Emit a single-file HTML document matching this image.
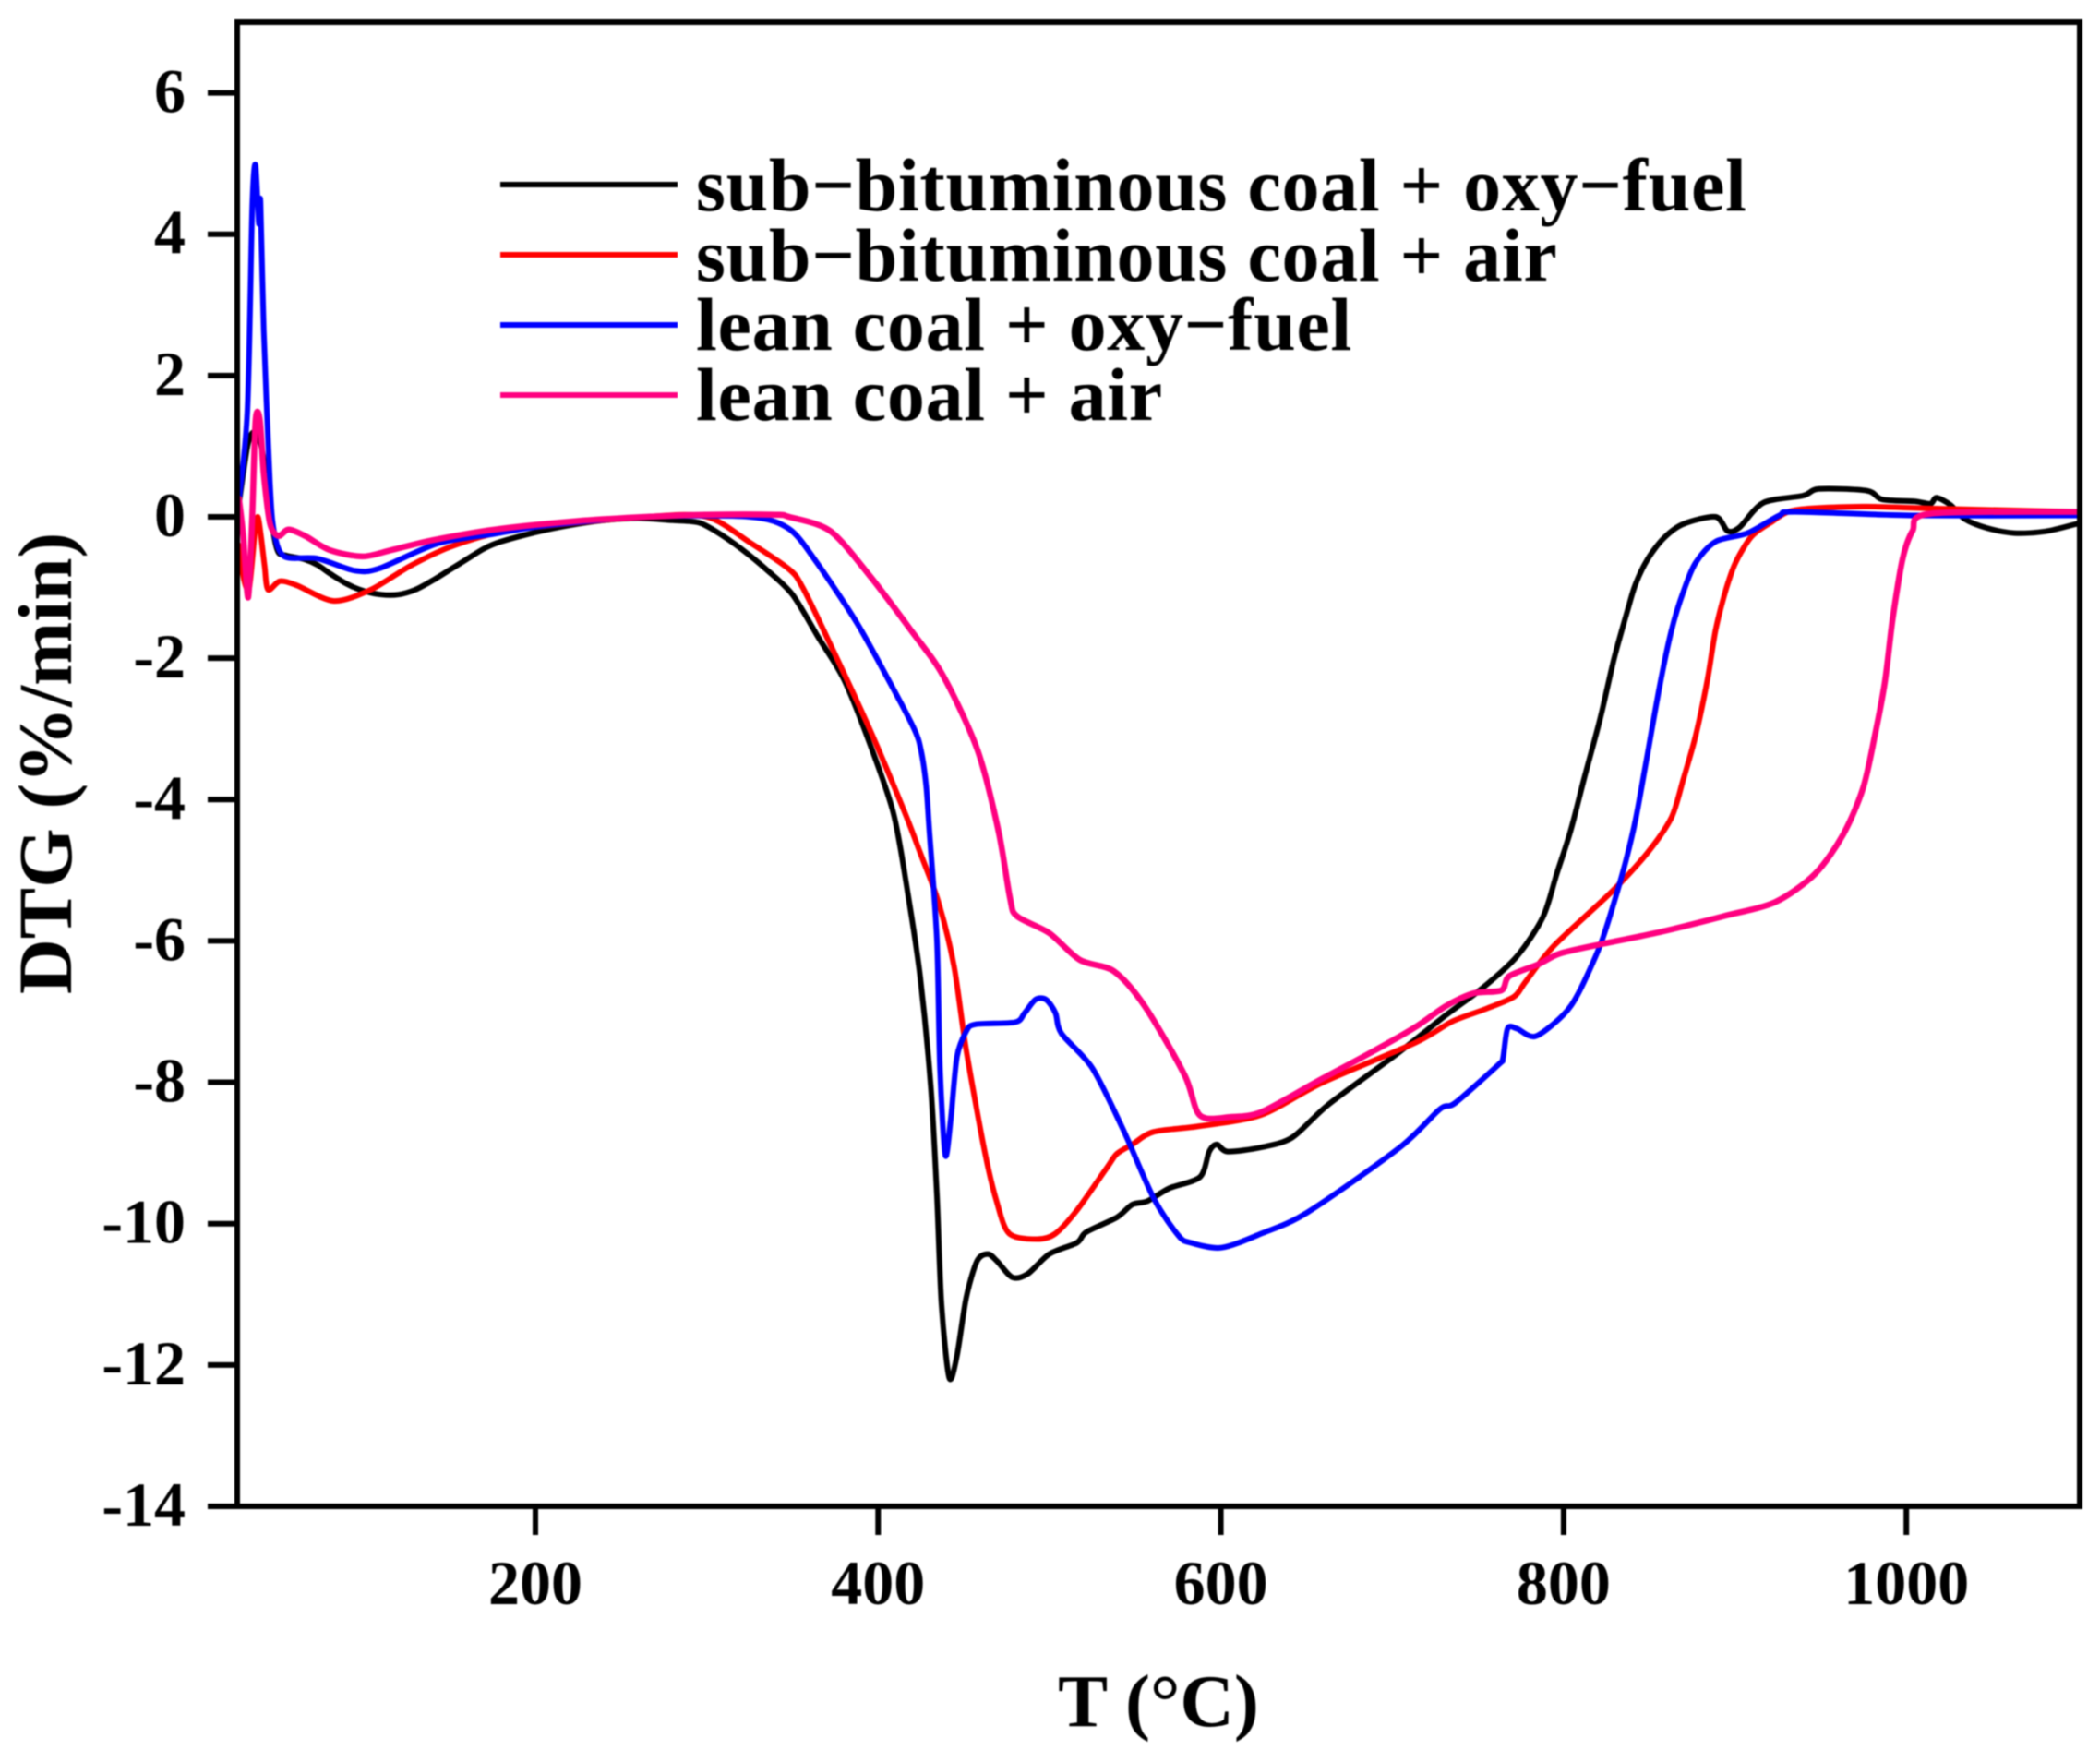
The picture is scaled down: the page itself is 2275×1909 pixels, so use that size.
<!DOCTYPE html>
<html>
<head>
<meta charset="utf-8">
<title>DTG curves</title>
<style>
html,body{margin:0;padding:0;background:#fff;}
#stage{position:relative;width:2275px;height:1909px;overflow:hidden;background:#fff;}
svg{display:block;}
text{font-family:"Liberation Serif",serif;font-weight:bold;fill:#000;}
.leg{letter-spacing:0.7px;}
</style>
</head>
<body>
<div id="stage">
<svg id="chart" width="2275" height="1909" viewBox="0 0 2275 1909" style="filter:blur(0.7px)">
  <g id="marks"></g>
  <rect x="257" y="24" width="1996" height="1608" fill="none" stroke="#000" stroke-width="6"></rect>
  <g id="yticks"></g>
  <g id="xticks"></g>
  <text x="77" y="827" font-size="83" text-anchor="middle" transform="rotate(-90 77 827)">DTG (%/min)</text>
  <text x="1255" y="1870" font-size="81" text-anchor="middle">T (°C)</text>
  <g>
    <line x1="542" y1="200" x2="734" y2="200" stroke="#000" stroke-width="6"></line>
    <text class="leg" x="754" y="228" font-size="82">sub−bituminous coal + oxy−fuel</text>
    <line x1="542" y1="276" x2="734" y2="276" stroke="#ff0000" stroke-width="6"></line>
    <text class="leg" x="754" y="304" font-size="82">sub−bituminous coal + air</text>
    <line x1="542" y1="352" x2="734" y2="352" stroke="#0000ff" stroke-width="6"></line>
    <text class="leg" x="754" y="379" font-size="82">lean coal + oxy−fuel</text>
    <line x1="542" y1="428" x2="734" y2="428" stroke="#ff0080" stroke-width="6"></line>
    <text class="leg" x="754" y="455" font-size="82">lean coal + air</text>
  </g>
</svg>
</div>
<script>
const xTicks = [200, 400, 600, 800, 1000];
const yTicks = [6, 4, 2, 0, -2, -4, -6, -8, -10, -12, -14];

const blackT = [26,32,36,40,44,47,50,55,65,72.8,80,90,100,110,120,130,140,150,160,170,180,200,220,240,260,280,295,305,320,335,350,365,380,395,409,417.3,424.5,430.7,434.3,437,441.5,446,451.4,457.7,464,469.4,478.3,487.3,499.9,516,521.4,539.4,548.3,557.3,569.9,587.8,593.2,597.7,604,623.7,641.7,663,702.7,731.4,753,772.7,788,796,804,812,821.4,829.5,837.6,842,849,858.5,870,888.7,895.7,902.6,916.6,939.8,949,977,986,1005,1014,1017.6,1025.7,1034,1046.6,1063,1081.4,1100];
const blackV = [0.02,1.0,1.2,1.0,0.4,-0.2,-0.5,-0.55,-0.6,-0.68,-0.8,-0.95,-1.05,-1.1,-1.1,-1.03,-0.9,-0.75,-0.6,-0.45,-0.35,-0.22,-0.12,-0.05,-0.02,-0.05,-0.08,-0.2,-0.45,-0.75,-1.1,-1.7,-2.3,-3.2,-4.2,-5.32,-6.5,-8.05,-9.6,-11.15,-12.18,-11.87,-11.05,-10.53,-10.43,-10.53,-10.76,-10.71,-10.43,-10.27,-10.12,-9.91,-9.73,-9.68,-9.5,-9.34,-8.98,-8.88,-8.98,-8.92,-8.78,-8.31,-7.6,-7.05,-6.66,-6.22,-5.66,-5.05,-4.45,-3.7,-2.85,-2.0,-1.3,-0.95,-0.6,-0.3,-0.1,0.0,-0.2,-0.15,0.2,0.3,0.395,0.37,0.245,0.22,0.185,0.27,0.17,-0.03,-0.155,-0.23,-0.205,-0.095];

const redT = [26.6,30,33,36,38,40,42,44,51,60.8,82.4,104,128,152,188,264.7,300,325,348,356,372,395,415,424.5,435.2,444.2,451.4,462.2,469.3,476.5,492.7,503.5,516,534,539.4,548.3,560.9,587.8,623.7,659.6,713.5,735,754.8,771,778,794.3,828.3,849,863,870,877,884,888.7,894.5,900.3,909.6,921,935,974.6,1011.7,1100];
const redV = [-0.39,-0.9,-1.0,-0.3,0.0,-0.3,-0.7,-1.03,-0.91,-0.97,-1.19,-1.03,-0.68,-0.41,-0.18,0,0,-0.36,-0.74,-1,-1.8,-3,-4.15,-4.75,-5.45,-6.35,-7.54,-8.98,-9.7,-10.14,-10.22,-10.14,-9.81,-9.19,-9.01,-8.88,-8.7,-8.62,-8.46,-8.0,-7.44,-7.14,-6.96,-6.79,-6.57,-6.07,-5.3,-4.75,-4.25,-3.7,-3.1,-2.3,-1.6,-1.05,-0.65,-0.28,-0.08,0.095,0.145,0.12,0.07];

const blueT = [25.9,31.9,34.8,36.7,38.6,39.6,41.5,45.1,47.5,53.5,72.8,94.4,108.9,142.5,176.2,207.5,264.7,325,348,364,387.6,407,421,425,428,429.9,434.3,436.1,439.2,442.4,446,451.4,456.8,480,485.5,491.8,498,503.5,507,525,543,561,575.3,582.4,600.4,623.7,650.6,704.5,727.8,736.8,762,764.6,767.3,772.7,783.5,799.7,808.6,821.2,829.5,836.5,842.3,849,856,863,870,877,888.7,907.3,925.9,935,1005,1100];
const blueV = [0.02,1.48,4.4,4.98,4.15,4.46,2.65,0.49,-0.21,-0.56,-0.59,-0.76,-0.73,-0.38,-0.24,-0.12,0,0,-0.17,-0.64,-1.5,-2.35,-3.0,-3.3,-3.8,-4.44,-5.99,-7.8,-9.03,-8.52,-7.64,-7.28,-7.18,-7.15,-7.02,-6.83,-6.83,-7.02,-7.31,-7.8,-8.67,-9.65,-10.17,-10.27,-10.34,-10.14,-9.84,-8.92,-8.38,-8.29,-7.75,-7.66,-7.24,-7.24,-7.35,-7.05,-6.74,-6.07,-5.45,-4.85,-4.25,-3.35,-2.4,-1.6,-1.05,-0.65,-0.35,-0.23,0.02,0.07,0.02,0.02];

const pinkT = [27,29.5,32.4,34.8,36.7,39.1,41.5,45.1,50,56,65.6,80,99.2,116,140,176,224,264.7,300,340,348,372,395,419,438,458,470.2,477,481,499.9,517.8,537.6,555.5,578.9,587.8,605.8,623.7,656,688.3,713.5,731.4,747.6,763.7,768.2,785.3,797.8,821.2,857,893.4,923.5,946.8,963,974.6,981.6,987.4,992,997.8,1003.6,1014,1100];
const pinkV = [0.26,-0.27,-1.14,0.02,1.36,1.39,0.61,-0.09,-0.27,-0.18,-0.27,-0.47,-0.56,-0.47,-0.33,-0.18,-0.06,0,0.03,0.03,0,-0.2,-0.83,-1.6,-2.25,-3.3,-4.44,-5.4,-5.65,-5.89,-6.27,-6.43,-6.92,-7.9,-8.47,-8.49,-8.42,-7.99,-7.57,-7.22,-6.92,-6.74,-6.7,-6.5,-6.33,-6.18,-6.05,-5.87,-5.65,-5.45,-5.05,-4.5,-3.85,-3.1,-2.35,-1.45,-0.6,-0.2,0.045,0.07];

function xScale(t){ return 580 + (t - 200) * 1.8565; }
function yScale(v){ return 560 - v * 76.57; }

const NS = 'http://www.w3.org/2000/svg';
const marks = document.getElementById('marks');
const yGroup = document.getElementById('yticks');
const xGroup = document.getElementById('xticks');

function smoothPath(ts, vs){
  const px = ts.map(xScale);
  const py = vs.map(yScale);
  const k = 1 / 7;
  let d = 'M' + px[0].toFixed(1) + ' ' + py[0].toFixed(1);
  for (let i = 0; i < px.length - 1; i++){
    const a = Math.max(i - 1, 0);
    const b = Math.min(i + 2, px.length - 1);
    const c1x = px[i] + (px[i + 1] - px[a]) * k;
    const c1y = py[i] + (py[i + 1] - py[a]) * k;
    const c2x = px[i + 1] - (px[b] - px[i]) * k;
    const c2y = py[i + 1] - (py[b] - py[i]) * k;
    d += 'C' + c1x.toFixed(1) + ' ' + c1y.toFixed(1) + ' ' + c2x.toFixed(1) + ' ' + c2y.toFixed(1) + ' ' + px[i + 1].toFixed(1) + ' ' + py[i + 1].toFixed(1);
  }
  return d;
}

function drawCurve(name, ts, vs, color, width){
  const el = document.createElementNS(NS, 'path');
  el.setAttribute('d', smoothPath(ts, vs));
  el.setAttribute('fill', 'none');
  el.setAttribute('stroke', color);
  el.setAttribute('stroke-width', width);
  el.setAttribute('stroke-linejoin', 'round');
  el.setAttribute('stroke-linecap', 'round');
  
  
  marks.appendChild(el);
}
drawCurve('series-sub-bituminous-oxy-fuel', blackT, blackV, '#000000', 6);
drawCurve('series-sub-bituminous-air', redT, redV, '#ff0000', 6);
drawCurve('series-lean-oxy-fuel', blueT, blueV, '#0000ff', 6);
drawCurve('series-lean-air', pinkT, pinkV, '#ff0080', 6.5);

yTicks.forEach(function(v){
  const y = yScale(v);
  const tick = document.createElementNS(NS, 'line');
  tick.setAttribute('x1', 225);
  tick.setAttribute('x2', 257);
  tick.setAttribute('y1', y);
  tick.setAttribute('y2', y);
  tick.setAttribute('stroke', '#000');
  tick.setAttribute('stroke-width', '6');
  
  
  yGroup.appendChild(tick);
  const label = document.createElementNS(NS, 'text');
  label.setAttribute('x', 201);
  label.setAttribute('y', y + 21);
  label.setAttribute('font-size', '68');
  label.setAttribute('text-anchor', 'end');
  
  
  label.textContent = String(v);
  yGroup.appendChild(label);
});

xTicks.forEach(function(t){
  const x = xScale(t);
  const tick = document.createElementNS(NS, 'line');
  tick.setAttribute('x1', x);
  tick.setAttribute('x2', x);
  tick.setAttribute('y1', 1632);
  tick.setAttribute('y2', 1663);
  tick.setAttribute('stroke', '#000');
  tick.setAttribute('stroke-width', '6');
  
  
  xGroup.appendChild(tick);
  const label = document.createElementNS(NS, 'text');
  label.setAttribute('x', x);
  label.setAttribute('y', 1738);
  label.setAttribute('font-size', '68');
  label.setAttribute('text-anchor', 'middle');
  
  
  label.textContent = String(t);
  xGroup.appendChild(label);
});
</script>
</body>
</html>
